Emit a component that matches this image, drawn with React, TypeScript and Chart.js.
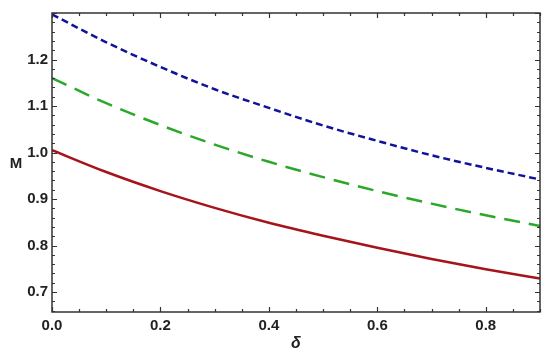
import React, { useEffect, useRef } from "react";
import { Chart, registerables } from "chart.js";

Chart.register(...registerables);

const deltaValues = [0, 0.1, 0.2, 0.3, 0.4, 0.5, 0.6, 0.7, 0.8, 0.9];
const redM = [1.005, 0.958, 0.917, 0.881, 0.849, 0.821, 0.795, 0.771, 0.749, 0.729];
const greenM = [1.16, 1.106, 1.059, 1.017, 0.98, 0.947, 0.917, 0.89, 0.865, 0.842];
const blueM = [1.297, 1.237, 1.184, 1.136, 1.096, 1.058, 1.025, 0.994, 0.967, 0.942];

const xTickValues = [0, 0.2, 0.4, 0.6, 0.8];
const yTickValues = [0.7, 0.8, 0.9, 1.0, 1.1, 1.2];
const xMinorStep = 0.05;
const yMinorStep = 0.02;

const FONT = "'Liberation Sans', Arial, sans-serif";

const framePlugin = {
  id: "frame",
  afterDraw(chart: any) {
    const { ctx, chartArea } = chart;
    const { left, right, top, bottom } = chartArea;
    const xs = chart.scales.x;
    const ys = chart.scales.y;
    ctx.save();
    ctx.strokeStyle = "#333";
    ctx.lineWidth = 1.5;
    ctx.strokeRect(left, top, right - left, bottom - top);
    ctx.lineWidth = 1.2;
    ctx.beginPath();
    for (let v = 0; v <= 0.9 + 1e-9; v += xMinorStep) {
      const isMajor = Math.abs(v / 0.2 - Math.round(v / 0.2)) < 1e-6;
      const len = isMajor ? 5 : 3;
      const px = Math.round(xs.getPixelForValue(v)) + 0.5;
      ctx.moveTo(px, bottom);
      ctx.lineTo(px, bottom - len);
      ctx.moveTo(px, top);
      ctx.lineTo(px, top + len);
    }
    for (let v = 0.66; v <= 1.3 + 1e-9; v += yMinorStep) {
      const isMajor = Math.abs(v / 0.1 - Math.round(v / 0.1)) < 1e-6;
      const len = isMajor ? 5 : 3;
      const py = Math.round(ys.getPixelForValue(v)) + 0.5;
      if (py < top || py > bottom) continue;
      ctx.moveTo(left, py);
      ctx.lineTo(left + len, py);
      ctx.moveTo(right, py);
      ctx.lineTo(right - len, py);
    }
    ctx.stroke();

    ctx.fillStyle = "#222";
    ctx.font = `bold 15px ${FONT}`;
    ctx.textAlign = "center";
    ctx.textBaseline = "middle";
    ctx.fillText("M", 16, (top + bottom) / 2 + 1);
    ctx.font = `italic bold 16px ${FONT}`;
    ctx.fillText("δ", (left + right) / 2, 344);
    ctx.restore();
  },
};

export default function App() {
  const ref = useRef<HTMLCanvasElement>(null);
  useEffect(() => {
    if (!ref.current) return;
    const mk = (arr: number[]) => deltaValues.map((x, i) => ({ x, y: arr[i] }));
    const chart = new Chart(ref.current, {
      type: "line",
      data: {
        datasets: [
          {
            data: mk(redM),
            borderColor: "#a5141b",
            borderWidth: 2.5,
            pointRadius: 0,
            cubicInterpolationMode: "monotone",
          },
          {
            data: mk(greenM),
            borderColor: "#2aa82a",
            borderWidth: 2.5,
            borderDash: [16, 9],
            pointRadius: 0,
            cubicInterpolationMode: "monotone",
          },
          {
            data: mk(blueM),
            borderColor: "#10139a",
            borderWidth: 2.5,
            borderDash: [7, 4],
            pointRadius: 0,
            cubicInterpolationMode: "monotone",
          },
        ],
      },
      options: {
        responsive: false,
        animation: false,
        layout: { padding: { top: 11, right: 10, left: 0, bottom: 0 } },
        plugins: { legend: { display: false }, tooltip: { enabled: false } },
        scales: {
          x: {
            type: "linear",
            min: 0,
            max: 0.9,
            grid: { display: false, drawTicks: false },
            border: { display: false },
            afterBuildTicks: (s: any) => {
              s.ticks = xTickValues.map((v) => ({ value: v }));
            },
            afterFit: (s: any) => {
              s.height = 49;
            },
            ticks: {
              padding: 5,
              color: "#222",
              font: { family: FONT, weight: "bold", size: 15 },
              maxRotation: 0,
              callback: (v: any) => Number(v).toFixed(1),
            },
          },
          y: {
            type: "linear",
            min: 0.657,
            max: 1.3,
            grid: { display: false, drawTicks: false },
            border: { display: false },
            afterBuildTicks: (s: any) => {
              s.ticks = yTickValues.map((v) => ({ value: v }));
            },
            afterFit: (s: any) => {
              s.width = 52;
            },
            ticks: {
              padding: 4,
              color: "#222",
              font: { family: FONT, weight: "bold", size: 15 },
              callback: (v: any) => Number(v).toFixed(1),
            },
          },
        },
      },
      plugins: [framePlugin],
    } as any);
    return () => chart.destroy();
  }, []);
  return (
    <div style={{ position: "fixed", left: 0, top: 0, width: 550, height: 361, background: "#fff" }}>
      <canvas ref={ref} width={550} height={361} style={{ width: 550, height: 361 }} />
    </div>
  );
}
